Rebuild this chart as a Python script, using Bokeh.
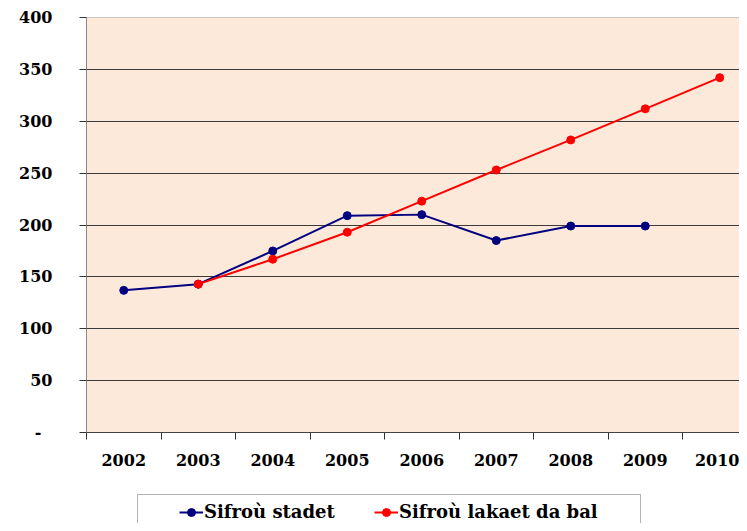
from bokeh.plotting import figure
from bokeh.layouts import column
from bokeh.models import (FixedTicker, Legend, LegendItem, Range1d, Span, BoxAnnotation)
from bokeh.embed import file_html
from bokeh.resources import INLINE

years = [2002, 2003, 2004, 2005, 2006, 2007, 2008, 2009, 2010]
stadet_years = [2002, 2003, 2004, 2005, 2006, 2007, 2008, 2009]
stadet = [137, 143, 175, 209, 210, 185, 199, 199]
lakaet_years = [2003, 2004, 2005, 2006, 2007, 2008, 2009, 2010]
lakaet = [143, 167, 193, 223, 253, 282, 312, 342]
y_ticks = [0, 50, 100, 150, 200, 250, 300, 350, 400]
y_labels = {0: "-\u00a0\u00a0", 50: "50", 100: "100", 150: "150", 200: "200",
            250: "250", 300: "300", 350: "350", 400: "400"}
series_names = ["Sifroù stadet", "Sifroù lakaet da bal"]

FONT = "DejaVu Serif"
BLUE = "#000080"
RED = "#FF0000"

W = 739
p = figure(width=W, height=490, output_backend="svg", toolbar_location=None,
           x_range=Range1d(2001.5, 2001.5 + 653 / 74.5), y_range=Range1d(0, 400))
p.min_border_left = 86
p.min_border_top = 17
p.min_border_right = 0
p.min_border_bottom = 58
p.background_fill_color = "#FDE9D9"
p.border_fill_color = "white"
p.outline_line_color = None

# grid
p.xgrid.visible = False
p.ygrid.ticker = FixedTicker(ticks=y_ticks[1:-1])
p.ygrid.grid_line_color = "#3a3a3a"
p.ygrid.grid_line_width = 1
p.add_layout(Span(location=400, dimension="width", line_color="#9a9a9a", line_width=1))

# y axis
ya = p.yaxis[0]
ya.ticker = FixedTicker(ticks=y_ticks)
ya.major_label_overrides = y_labels
ya.major_tick_out = 7
ya.major_tick_in = 0
ya.minor_tick_out = 0
ya.minor_tick_in = 0
ya.major_tick_line_color = "#333333"
ya.axis_line_color = "#8a8a8a"
ya.major_label_standoff = 27
ya.major_label_text_font = FONT
ya.major_label_text_font_style = "bold"
ya.major_label_text_font_size = "16px"
ya.major_label_text_color = "black"

# x axis
xa = p.xaxis[0]
xa.ticker = FixedTicker(ticks=years, minor_ticks=[y - 0.5 for y in years] + [years[-1] + 0.5])
xa.major_label_overrides = {y: str(y) for y in years}
xa.major_tick_out = 0
xa.major_tick_in = 0
xa.minor_tick_out = 7
xa.minor_tick_in = 0
xa.minor_tick_line_color = "#333333"
xa.axis_line_color = "#444444"
xa.major_label_standoff = 14
xa.major_label_text_font = FONT
xa.major_label_text_font_style = "bold"
xa.major_label_text_font_size = "16px"
xa.major_label_text_color = "black"

# series
l1 = p.line(stadet_years, stadet, line_color=BLUE, line_width=2)
s1 = p.scatter(stadet_years, stadet, size=8, fill_color=BLUE, line_color=BLUE)
l2 = p.line(lakaet_years, lakaet, line_color=RED, line_width=2)
s2 = p.scatter(lakaet_years, lakaet, size=8, fill_color=RED, line_color=RED)

# legend strip (separate figure so it is not clipped by the plot frame;
# its frame is aligned with the main plot frame, starting at x=86)
H2 = 33
q = figure(width=W, height=H2, output_backend="svg", toolbar_location=None,
           x_range=Range1d(0, 1), y_range=Range1d(0, 1),
           x_axis_location=None, y_axis_location=None)
q.min_border = 0
q.min_border_left = 0
q.min_border_right = 0
q.min_border_top = 0
q.min_border_bottom = 0
q.grid.visible = False
q.outline_line_color = None
q.background_fill_color = "white"
q.border_fill_color = "white"

# proxy renderers (same styling as the series, kept outside the strip's view)
proxy_x = [stadet_years[0] - 3000, stadet_years[1] - 3000]
proxy_y = [stadet[0] - 3000, stadet[1] - 3000]
ql1 = q.line(proxy_x, proxy_y, line_color=BLUE, line_width=2)
qs1 = q.scatter(proxy_x, proxy_y, size=8, fill_color=BLUE, line_color=BLUE)
ql2 = q.line(proxy_x, proxy_y, line_color=RED, line_width=2)
qs2 = q.scatter(proxy_x, proxy_y, size=8, fill_color=RED, line_color=RED)

q.add_layout(BoxAnnotation(left=51, right=554, top=H2 - 4, bottom=-40,
                           left_units="screen", right_units="screen",
                           top_units="screen", bottom_units="screen",
                           fill_color="white", fill_alpha=0.0,
                           line_color="black", line_width=1))

def make_legend(fig, label, rends, x):
    lg = Legend(items=[LegendItem(label=label, renderers=rends)],
                location=(x, 1), orientation="horizontal",
                padding=0, margin=0, spacing=0,
                glyph_width=24, glyph_height=20, label_height=20,
                label_standoff=1,
                label_text_font=FONT, label_text_font_style="bold",
                label_text_font_size="18px", label_text_color="black",
                border_line_color=None, background_fill_alpha=0)
    fig.add_layout(lg, "center")

make_legend(q, series_names[0], [ql1, qs1], 93)
make_legend(q, series_names[1], [ql2, qs2], 288)

layout = column(p, q, spacing=0)
open("out.html", "w").write(file_html(layout, INLINE))
